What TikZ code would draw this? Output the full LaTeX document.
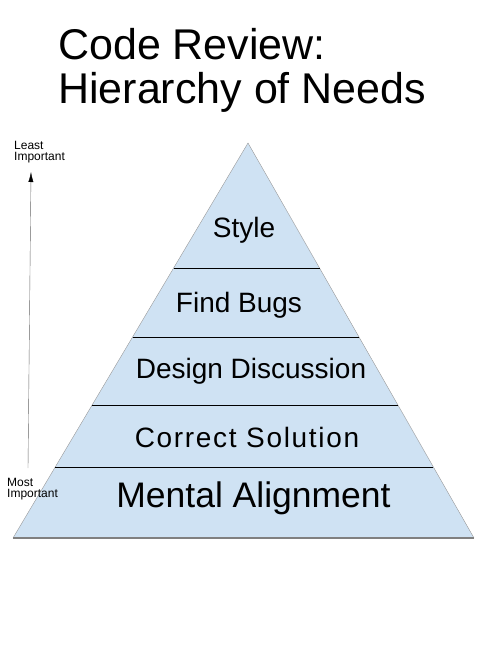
\documentclass[tikz,border=0pt]{standalone}
\usepackage{fontspec}
\setmainfont{Liberation Sans}
\usetikzlibrary{arrows.meta,calc}
\definecolor{layerblue}{HTML}{CFE2F3}
\definecolor{edgegray}{HTML}{999999}

\begin{document}
\begin{tikzpicture}[x=1pt,y=-1pt,
  title/.style={anchor=base west,inner sep=0pt,font=\fontsize{43}{47}\selectfont},
  layer/.style={anchor=base,inner sep=0pt,font=\fontsize{28}{32}\selectfont},
  note/.style={anchor=north west,inner sep=0pt,align=left,font=\fontsize{12}{11.5}\selectfont}]
  \path[use as bounding box] (0,0) rectangle (500,647);

  \node[title] (head) at (58,60) {Code Review:};
  \node[title] (subhead) at (58,104) {Hierarchy of Needs};

  % pyramid
  \coordinate (top) at (248,143);
  \coordinate (bl) at (13,538);
  \coordinate (br) at (474,538);
  \fill[layerblue] (top) -- (bl) -- (br) -- cycle;
  \draw[edgegray] (bl) -- (top) -- (br);
  \draw[gray,line width=1.2pt] (bl) -- (br);
  \foreach \t in {0.3165,0.4911,0.6633,0.8203}
    \draw[black] ($(top)!\t!(bl)$) -- ($(top)!\t!(br)$);

  \node[layer] (style) at (244,237) {Style};
  \node[layer] (bugs) at (239,312) {Find Bugs};
  \node[layer] (design) at (251,378) {Design Discussion};
  \node[layer,font=\fontsize{28}{32}\selectfont\addfontfeature{LetterSpace=6}] (correct) at (247,447) {Correct Solution};
  \node[layer,font=\fontsize{35.5}{40}\selectfont] (mental) at (253.5,507) {Mental Alignment};

  % importance axis
  \node[note] (least) at (14,141) {Least\\Important};
  \node[note] (most) at (7,478) {Most\\Important};
  \coordinate (low) at (28,468);
  \coordinate (high) at (31,172);
  \draw[black!60,-{Latex[length=10pt,width=5pt,black]}] (low) -- (high);
\end{tikzpicture}
\end{document}
